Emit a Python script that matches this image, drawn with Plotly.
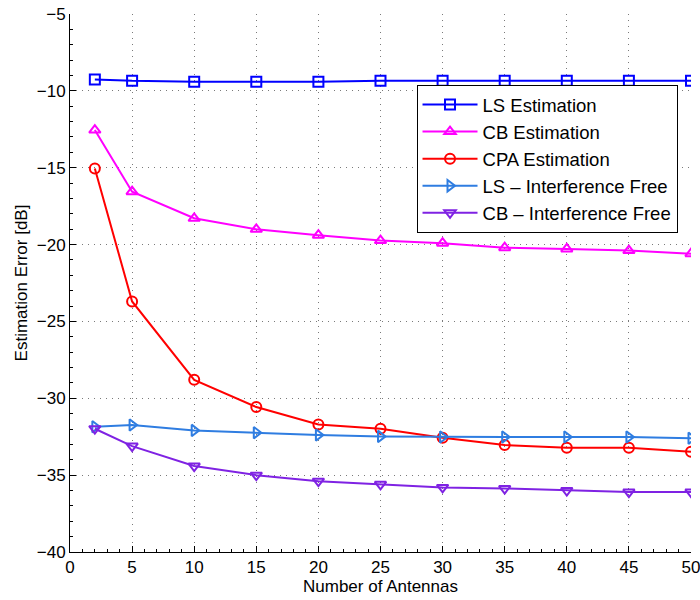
import plotly.graph_objects as go

antennas = [2, 5, 10, 15, 20, 25, 30, 35, 40, 45, 50]
ls_est = [-9.26, -9.35, -9.41, -9.41, -9.41, -9.35, -9.35, -9.35, -9.35, -9.35, -9.35]
cb_est = [-12.55, -16.56, -18.29, -19.01, -19.39, -19.74, -19.91, -20.2, -20.28, -20.39, -20.59]
cpa_est = [-15.05, -23.7, -28.8, -30.57, -31.7, -31.98, -32.57, -33.04, -33.22, -33.22, -33.48]
ls_if = [-31.85, -31.74, -32.09, -32.24, -32.39, -32.48, -32.52, -32.52, -32.52, -32.52, -32.6]
cb_if = [-31.98, -33.11, -34.41, -35.0, -35.39, -35.6, -35.8, -35.87, -36.0, -36.1, -36.1]

series = [
    ("LS Estimation", ls_est, "#0000ff", "square-open"),
    ("CB Estimation", cb_est, "#ff00ff", "triangle-up-open"),
    ("CPA Estimation", cpa_est, "#ff0000", "circle-open"),
    ("LS \u2013 Interference Free", ls_if, "#2f7de1", "triangle-right-open"),
    ("CB \u2013 Interference Free", cb_if, "#7f22e3", "triangle-down-open"),
]

fig = go.Figure()
for name, ys, color, sym in series:
    fig.add_trace(go.Scatter(
        x=antennas, y=ys, name=name, mode="lines+markers",
        line=dict(color=color, width=2),
        marker=dict(symbol=sym, size=10, color=color, line=dict(color=color, width=2)),
    ))

FONT = "Liberation Sans, Arial, Helvetica"

axis_common = dict(
    showline=True, linecolor="black", linewidth=1,
    ticks="inside", ticklen=6, tickcolor="black",
    showgrid=True, gridcolor="#7a7a7a", griddash="1px,5px", gridwidth=1,
    zeroline=False, mirror=False, ticklabeloverflow="allow", automargin=False,
    tickfont=dict(family=FONT, size=17, color="black"),
)

fig.update_layout(
    width=700, height=600,
    margin=dict(l=70, r=9, t=14, b=48),
    paper_bgcolor="white", plot_bgcolor="white",
    font=dict(family=FONT, size=17, color="black"),
    xaxis=dict(range=[0, 50], dtick=5, tick0=0,
               title=dict(text="Number of Antennas", standoff=2,
                          font=dict(size=17)),
               minor=dict(ticks="inside", ticklen=3, tickcolor="black",
                          showgrid=False, dtick=1),
               **axis_common),
    yaxis=dict(range=[-40, -5], dtick=5, tick0=-40,
               title=dict(text="Estimation Error [dB]", standoff=4,
                          font=dict(size=17)),
               minor=dict(ticks="inside", ticklen=3, tickcolor="black",
                          showgrid=False, dtick=1),
               **axis_common),
    legend=dict(x=0.558, y=0.868, xanchor="left", yanchor="top",
                bgcolor="white", bordercolor="black", borderwidth=1,
                font=dict(family=FONT, size=18.5), itemwidth=55, tracegroupgap=0),
    showlegend=True,
)

fig.write_html("out.html")
